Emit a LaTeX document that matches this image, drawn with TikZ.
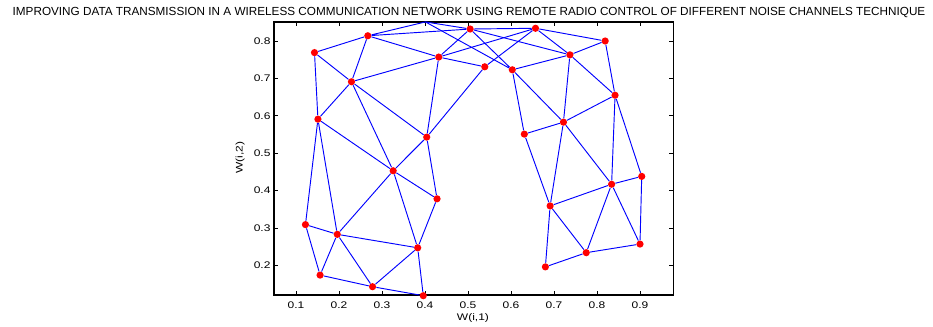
\documentclass[tikz,border=0pt]{standalone}
\usepackage{fontspec}
\setmainfont{Liberation Sans}
\newfontfamily\axisfont[FakeStretch=1.25]{Liberation Sans}

\begin{document}
\begin{tikzpicture}[
  x=322.5pt, y=280.5pt,
  neuron/.style={circle, fill=red, inner sep=0pt, minimum size=5.4pt},
  link/.style={blue, line width=0.7pt},
  axisbox/.style={draw=black, line width=0.9pt},
  tickmark/.style={black, line width=0.6pt},
  ticklabel/.style={font=\axisfont\fontsize{7.2}{8}\selectfont, inner sep=0pt},
  axislabel/.style={font=\axisfont\fontsize{7.2}{8}\selectfont, inner sep=0pt},
  headline/.style={font=\fontsize{8.8}{10}\selectfont, inner sep=0pt}
]
\useasboundingbox (-0.5884,0.0353) rectangle (1.5814,0.9096);

\node[headline] (heading) at (0.5023,0.8749) {IMPROVING DATA TRANSMISSION IN A WIRELESS COMMUNICATION NETWORK USING REMOTE RADIO CONTROL OF DIFFERENT NOISE CHANNELS TECHNIQUE};

% axes
\draw[axisbox] (0.049,0.121) rectangle (0.977,0.851);
\foreach \v [count=\i] in {0.1,0.2,0.3,0.4,0.5,0.6,0.7,0.8,0.9} {
  \draw[tickmark] (\v,0.121) -- ++(0,3pt);
  \draw[tickmark] (\v,0.851) -- ++(0,-3pt);
  \node[ticklabel] (xt\i) at (\v,0.094) {\v};
}
\foreach \v [count=\i] in {0.2,0.3,0.4,0.5,0.6,0.7,0.8} {
  \draw[tickmark] (0.049,\v) -- ++(3pt,0);
  \draw[tickmark] (0.977,\v) -- ++(-3pt,0);
  \node[ticklabel, anchor=east] (yt\i) at (0.0412,\v) {\v};
}
\node[axislabel] (xlab) at (0.5116,0.0594) {W(i,1)};
\node[axislabel, rotate=90] (ylab) at (-0.0302,0.4872) {W(i,2)};

% neurons, row by row
\node[neuron] (w1) at (0.396,0.119) {};
\node[neuron] (w2) at (0.278,0.143) {};
\node[neuron] (w3) at (0.156,0.174) {};
\node[neuron] (w4) at (0.383,0.247) {};
\node[neuron] (w5) at (0.196,0.283) {};
\node[neuron] (w6) at (0.122,0.309) {};
\node[neuron] (w7) at (0.428,0.378) {};
\node[neuron] (w8) at (0.326,0.453) {};
\node[neuron] (w9) at (0.151,0.591) {};
\node[neuron] (w10) at (0.404,0.543) {};
\node[neuron] (w11) at (0.229,0.691) {};
\node[neuron] (w12) at (0.143,0.769) {};
\node[neuron] (w13) at (0.539,0.731) {};
\node[neuron] (w14) at (0.432,0.757) {};
\node[neuron] (w15) at (0.267,0.814) {};
\node[neuron] (w16) at (0.657,0.834) {};
\node[neuron] (w17) at (0.505,0.832) {};
\coordinate (w18) at (0.401,0.851);
\node[neuron] (w19) at (0.819,0.800) {};
\node[neuron] (w20) at (0.737,0.763) {};
\node[neuron] (w21) at (0.603,0.723) {};
\node[neuron] (w22) at (0.842,0.655) {};
\node[neuron] (w23) at (0.722,0.583) {};
\node[neuron] (w24) at (0.631,0.551) {};
\node[neuron] (w25) at (0.904,0.438) {};
\node[neuron] (w26) at (0.834,0.417) {};
\node[neuron] (w27) at (0.691,0.359) {};
\node[neuron] (w28) at (0.900,0.257) {};
\node[neuron] (w29) at (0.775,0.234) {};
\node[neuron] (w30) at (0.680,0.196) {};

% links inside rows
\draw[link] (w1) -- (w2) (w2) -- (w3) (w4) -- (w5) (w5) -- (w6) (w7) -- (w8) (w8) -- (w9);
\draw[link] (w10) -- (w11) (w11) -- (w12) (w13) -- (w14) (w14) -- (w15) (w16) -- (w17) (w17) -- (w18);
\draw[link] (w19) -- (w20) (w20) -- (w21) (w22) -- (w23) (w23) -- (w24) (w25) -- (w26) (w26) -- (w27);
\draw[link] (w28) -- (w29) (w29) -- (w30);
% links between rows
\draw[link] (w1) -- (w4) (w2) -- (w4) (w2) -- (w5) (w3) -- (w5) (w3) -- (w6);
\draw[link] (w4) -- (w7) (w4) -- (w8) (w5) -- (w8) (w5) -- (w9) (w6) -- (w9);
\draw[link] (w7) -- (w10) (w8) -- (w10) (w8) -- (w11) (w9) -- (w11) (w9) -- (w12);
\draw[link] (w10) -- (w13) (w10) -- (w14) (w11) -- (w14) (w11) -- (w15) (w12) -- (w15);
\draw[link] (w13) -- (w16) (w14) -- (w16) (w14) -- (w17) (w15) -- (w17) (w15) -- (w18);
\draw[link] (w16) -- (w19) (w16) -- (w20) (w17) -- (w20) (w17) -- (w21) (w18) -- (w21);
\draw[link] (w19) -- (w22) (w20) -- (w22) (w20) -- (w23) (w21) -- (w23) (w21) -- (w24);
\draw[link] (w22) -- (w25) (w22) -- (w26) (w23) -- (w26) (w23) -- (w27) (w24) -- (w27);
\draw[link] (w25) -- (w28) (w26) -- (w28) (w26) -- (w29) (w27) -- (w29) (w27) -- (w30);
\end{tikzpicture}
\end{document}
